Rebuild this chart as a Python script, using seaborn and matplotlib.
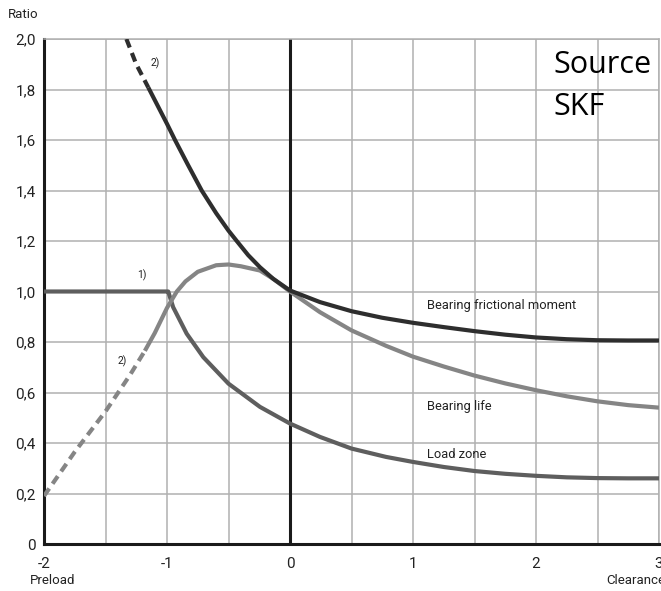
import numpy as np
import pandas as pd
import matplotlib
matplotlib.use("Agg")
import matplotlib.pyplot as plt
import seaborn as sns

# ------------------------------------------------------------
# Curve values
# ------------------------------------------------------------
friction_dash_x = [-1.33, -1.25, -1.152]
friction_dash_y = [2.00, 1.90, 1.808]
friction_x = [-1.152, -1.0, -0.935, -0.83, -0.718, -0.6, -0.5, -0.433, -0.34,
              -0.244, -0.136, 0.0, 0.244, 0.5, 0.75, 1.0, 1.25, 1.5, 1.75, 2.0,
              2.25, 2.5, 2.75, 3.0]
friction_y = [1.808, 1.664, 1.60, 1.502, 1.40, 1.31, 1.241, 1.20, 1.144,
              1.096, 1.05, 1.004, 0.958, 0.922, 0.896, 0.876, 0.859, 0.843,
              0.829, 0.818, 0.811, 0.807, 0.806, 0.806]

life_dash_x = [-2.0, -1.75, -1.5, -1.3, -1.18]
life_dash_y = [0.19, 0.365, 0.525, 0.67, 0.765]
life_x = [-1.18, -1.1, -1.0, -0.92, -0.85, -0.75, -0.6, -0.5, -0.4, -0.244,
          -0.136, 0.0, 0.244, 0.5, 0.78, 1.0, 1.25, 1.5, 1.75, 2.0, 2.25, 2.5,
          2.75, 3.0]
life_y = [0.765, 0.835, 0.935, 1.0, 1.04, 1.078, 1.104, 1.107, 1.10, 1.083,
          1.05, 1.0, 0.918, 0.846, 0.785, 0.742, 0.703, 0.667, 0.636, 0.609,
          0.585, 0.565, 0.55, 0.54]

load_x = [-2.0, -1.0, -0.99, -0.95, -0.84, -0.705, -0.5, -0.244, 0.0, 0.244,
          0.5, 0.78, 1.0, 1.25, 1.5, 1.75, 2.0, 2.25, 2.5, 2.75, 3.0]
load_y = [1.0, 1.0, 1.0, 0.938, 0.833, 0.74, 0.635, 0.543, 0.477, 0.424,
          0.378, 0.345, 0.325, 0.305, 0.289, 0.278, 0.27, 0.264, 0.261, 0.26,
          0.26]

x_ticks = [-2, -1, 0, 1, 2, 3]
y_ticks = [0, 0.2, 0.4, 0.6, 0.8, 1.0, 1.2, 1.4, 1.6, 1.8, 2.0]

# ------------------------------------------------------------
# Figure
# ------------------------------------------------------------
sns.set_style("white")
plt.rcParams['font.family'] = ['Roboto', 'DejaVu Sans']

fig = plt.figure(figsize=(6.61, 5.91), dpi=100)
ax = fig.add_axes([44 / 661, 1 - 544 / 591, 615 / 661, 505 / 591])

c_fric = "#2e2e2e"
c_life = "#858585"
c_load = "#5e5e5e"
lw = 3.0
dash = (0, (2.2, 1.4))
line_kw = dict(solid_joinstyle="round", solid_capstyle="butt")

# grid every 0.5 in x and 0.2 in y
for gx in np.arange(-1.5, 3.01, 0.5):
    ax.axvline(gx, color="#b0b0b0", lw=1.1, zorder=0)
for gy in y_ticks[1:]:
    ax.axhline(gy, color="#b0b0b0", lw=1.1, zorder=0)
ax.axvline(0, color="#1a1a1a", lw=2.2, zorder=1)

sns.lineplot(x=load_x, y=load_y, ax=ax, color=c_load, lw=lw, zorder=3, **line_kw)
sns.lineplot(x=life_dash_x, y=life_dash_y, ax=ax, color=c_life, lw=lw,
             linestyle=dash, zorder=3)
sns.lineplot(x=life_x, y=life_y, ax=ax, color=c_life, lw=lw, zorder=4, **line_kw)
sns.lineplot(x=friction_dash_x, y=friction_dash_y, ax=ax, color=c_fric, lw=lw,
             linestyle=dash, zorder=3)
sns.lineplot(x=friction_x, y=friction_y, ax=ax, color=c_fric, lw=lw, zorder=5, **line_kw)

ax.set_xlim(-2, 3)
ax.set_ylim(0, 2.0)
ax.set_xticks(x_ticks)
ax.set_yticks(y_ticks)
ax.set_xticklabels([str(v) for v in x_ticks])
ax.set_yticklabels(["0" if v == 0 else f"{v:.1f}".replace(".", ",") for v in y_ticks])
ax.tick_params(axis="both", direction="out", length=4, width=1.5, color="#1a1a1a",
               labelsize=11, labelcolor="#222222", pad=2)
ax.tick_params(axis="x", pad=5)

for side in ["left", "bottom"]:
    ax.spines[side].set_color("#1a1a1a")
    ax.spines[side].set_linewidth(2.2)
for side in ["top", "right"]:
    ax.spines[side].set_color("#b0b0b0")
    ax.spines[side].set_linewidth(1.1)

# curve labels
ax.text(1.11, 0.945, "Bearing frictional moment", fontsize=9.3, color="#222222", va="center")
ax.text(1.11, 0.545, "Bearing life", fontsize=9.3, color="#222222", va="center")
ax.text(1.11, 0.356, "Load zone", fontsize=9.3, color="#222222", va="center")
ax.text(-1.24, 1.065, "1)", fontsize=7.5, color="#222222", va="center")
ax.text(-1.13, 1.905, "2)", fontsize=7.5, color="#222222", va="center")
ax.text(-1.40, 0.725, "2)", fontsize=7.5, color="#222222", va="center")

ax.text(2.14, 1.955, "Source\nSKF", fontsize=22, color="black", va="top",
        family=["Open Sans", "DejaVu Sans"], linespacing=1.5)

fig.text(8 / 661, 1 - 14 / 591, "Ratio", fontsize=9.5, color="#222222", va="center")
fig.text(30 / 661, 1 - 581 / 591, "Preload", fontsize=9.5, color="#222222", va="center")
fig.text(606 / 661, 1 - 581 / 591, "Clearance", fontsize=9.5, color="#222222", va="center")

fig.savefig("out.png", dpi=100)
